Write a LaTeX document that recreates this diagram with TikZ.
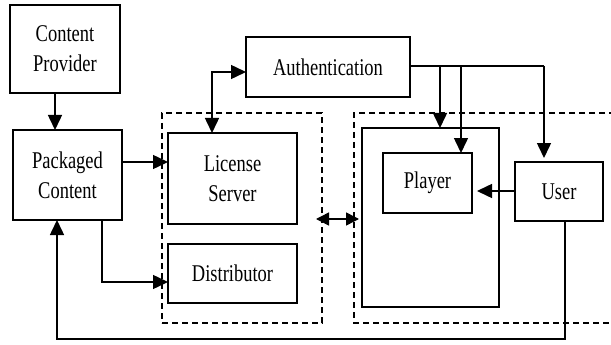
\documentclass[tikz,border=0pt]{standalone}
\usepackage{fontspec}
\setmainfont{Liberation Serif}[FakeStretch=0.77]
\usetikzlibrary{arrows.meta}
\begin{document}
\begin{tikzpicture}[x=1pt,y=-1pt,
  box/.style={draw, line width=1.5pt, inner sep=0pt, outer sep=0pt, align=center,
    anchor=north west, font=\fontsize{24}{30}\selectfont},
  conn/.style={line width=1.5pt, -{Triangle[length=15pt,width=14pt]}},
  wire/.style={line width=1.5pt},
  grp/.style={draw, line width=1.4pt, dash pattern=on 6pt off 4pt}]
\useasboundingbox (0,0) rectangle (611,345);

% dashed groupings
\node[grp, inner sep=0pt, outer sep=0pt, anchor=north west,
  minimum width=160pt, minimum height=210pt] (lgrp) at (162,113) {};
\draw[grp] (615,113) -- (354,113) -- (354,323) -- (615,323);

% boxes
\node[box, minimum width=110pt, minimum height=88pt] (cp) at (10,5) {Content\\Provider};
\node[box, minimum width=109pt, minimum height=90pt] (pc) at (13,130) {Packaged\\Content};
\node[box, minimum width=164pt, minimum height=60pt] (auth) at (246,37) {Authentication};
\node[box, minimum width=129pt, minimum height=91pt] (ls) at (168,133) {License\\Server};
\node[box, minimum width=129pt, minimum height=59pt] (dist) at (168,244) {Distributor};
\node[box, minimum width=137pt, minimum height=179pt] (dev) at (362,128) {};
\node[box, minimum width=89pt, minimum height=60pt] (player) at (383,153) {Player};
\node[box, minimum width=88pt, minimum height=59pt] (user) at (515,162) {User};

% routing guides
\coordinate (ax1) at (55,0);
\coordinate (ay1) at (0,162);
\coordinate (ax2) at (102,0);
\coordinate (ay2) at (0,282);
\coordinate (ax3) at (57,0);
\coordinate (ay3) at (0,339);
\coordinate (ux) at (565,0);
\coordinate (ax4) at (212,0);
\coordinate (ay4) at (0,72);
\coordinate (ay5) at (0,66);
\coordinate (ax5) at (440,0);
\coordinate (ax6) at (461,0);
\coordinate (ax7) at (544,0);
\coordinate (ay6) at (0,191);
\coordinate (da1) at (316,219);
\coordinate (da2) at (359,219);

% connectors
\draw[conn] (cp.south -| ax1) -- (pc.north -| ax1);
\draw[conn] (pc.east |- ay1) -- (ls.west |- ay1);
\draw[conn] (pc.south -| ax2) |- (dist.west |- ay2);
\draw[conn] (user.south -| ux) -- (ux |- ay3) -- (ax3 |- ay3) -- (pc.south -| ax3);
\draw[wire, {Triangle[length=15pt,width=14pt]}-{Triangle[length=15pt,width=14pt]}]
  (ls.north -| ax4) |- (auth.west |- ay4);
\draw[wire] (auth.east |- ay5) -- (ax7 |- ay5);
\draw[conn] (ax5 |- ay5) -- (dev.north -| ax5);
\draw[conn] (ax6 |- ay5) -- (player.north -| ax6);
\draw[conn, shorten >=4pt] (ax7 |- ay5) -- (user.north -| ax7);
\draw[conn, shorten >=5pt] (user.west |- ay6) -- (player.east |- ay6);
\draw[wire, {Triangle[length=13pt,width=13pt]}-{Triangle[length=13pt,width=13pt]}]
  (da1) -- (da2);
\end{tikzpicture}
\end{document}
